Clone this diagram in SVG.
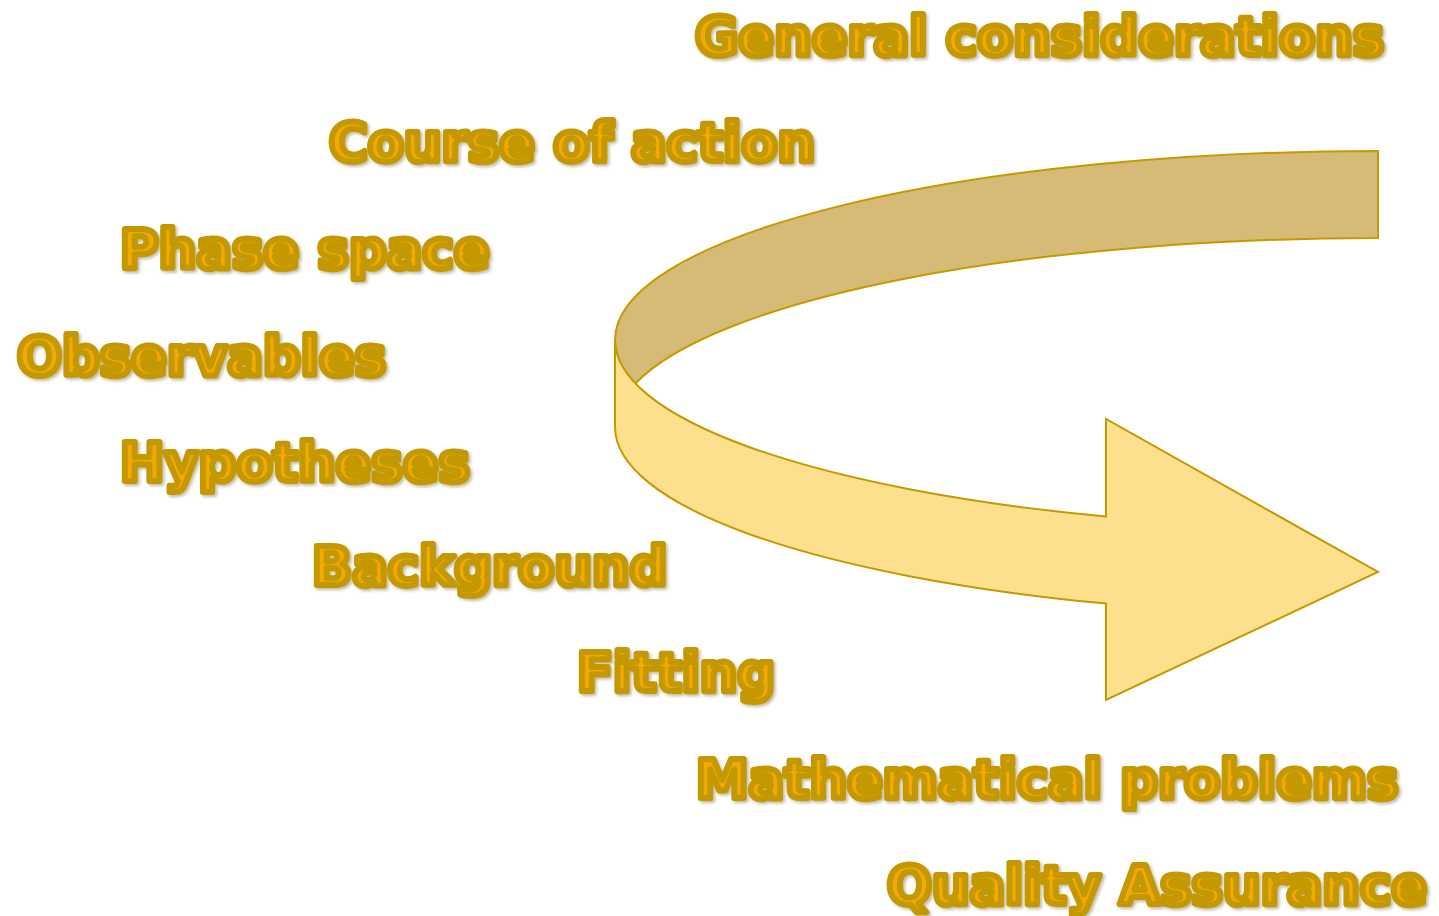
<svg xmlns="http://www.w3.org/2000/svg" width="1439" height="916" viewBox="0 0 1439 916">
  <defs>
    <filter id="softShadow" x="-5%" y="-20%" width="110%" height="140%">
      <feDropShadow dx="2" dy="2" stdDeviation="1.5" flood-color="#7a6a40" flood-opacity="0.45"/>
    </filter>
  </defs>
  <style>
    .label { font-family: "DejaVu Sans", Verdana, sans-serif; font-weight: bold; font-size: 52.8px;
             fill: #f2a900; stroke: #c49800; stroke-width: 6; stroke-linejoin: round; filter: url(#softShadow); }
    .ribbon { stroke: #c49a00; stroke-width: 2; stroke-linejoin: miter; }
    .back { fill: #d6bb77; }
    .front { fill: #fde08e; }
  </style>

  <!-- curved ribbon arrow: back face first, then front face with head -->
  <g id="curved-arrow">
    <path class="ribbon back" d="M 1378 151 A 763 189 0 0 0 615 340 A 763 189 0 0 0 635.4 383.5 A 763 189 0 0 1 1378 238 Z"/>
    <path class="ribbon front" d="M 615 340 L 615 427 A 763 189 0 0 0 1106 603.6 L 1106 700 L 1378 572 L 1106 419 L 1106 516.6 A 763 189 0 0 1 615 340 Z"/>
  </g>

  <g id="topics">
    <g id="general-considerations"><text class="label" x="695" y="55">General considerations</text></g>
    <g id="course-of-action"><text class="label" x="329" y="161">Course of action</text></g>
    <g id="phase-space"><text class="label" x="120" y="268">Phase space</text></g>
    <g id="observables"><text class="label" x="17" y="375">Observables</text></g>
    <g id="hypotheses"><text class="label" x="120" y="481">Hypotheses</text></g>
    <g id="background"><text class="label" x="312" y="585">Background</text></g>
    <g id="fitting"><text class="label" x="577" y="691">Fitting</text></g>
    <g id="mathematical-problems"><text class="label" x="696" y="798">Mathematical problems</text></g>
    <g id="quality-assurance"><text class="label" x="887" y="904">Quality Assurance</text></g>
  </g>
</svg>
